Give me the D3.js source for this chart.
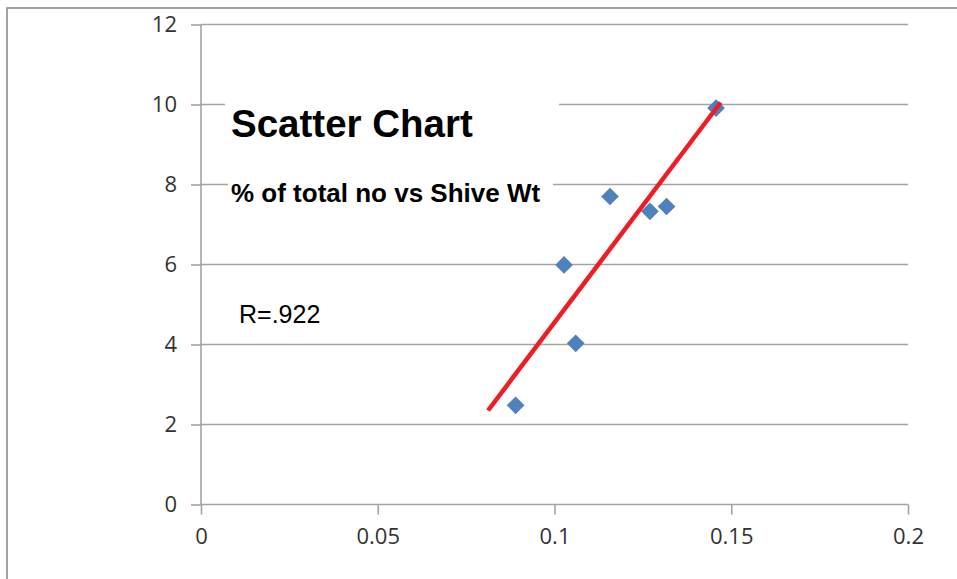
<!DOCTYPE html>
<html>
<head>
<meta charset="utf-8">
<script src="https://cdn.jsdelivr.net/npm/d3@7"></script>
<style>
  html, body { margin: 0; padding: 0; background: #fff; }
  svg { display: block; }
</style>
</head>
<body>
<svg id="chart" width="957" height="579"></svg>
<script>
// Shive weight vs % of total number
const shiveWt = [0.089, 0.106, 0.1027, 0.1157, 0.127, 0.1317, 0.1457];
const pctTotal = [2.48, 4.03, 5.99, 7.70, 7.33, 7.45, 9.91];

// Hand-placed trend line end points
const trendX = [0.0812, 0.147];
const trendY = [2.35, 10.05];

const xTicks = [0, 0.05, 0.1, 0.15, 0.2];
const yTicks = [0, 2, 4, 6, 8, 10, 12];

const svg = d3.select("#chart");
const W = 957, H = 579;

// outer chart frame
svg.append("rect")
  .attr("x", 7).attr("y", 8)
  .attr("width", W + 10).attr("height", H + 10)
  .attr("fill", "#fff")
  .attr("stroke", "#8c8c8c").attr("stroke-width", 1.6);

const x = d3.scaleLinear().domain([0, 0.2]).range([201, 908]);
const y = d3.scaleLinear().domain([0, 12]).range([504.5, 24.5]);

const gridColor = "#a3a3a3";
const tickFont = "'Open Sans', 'Noto Sans', sans-serif";

// horizontal gridlines
svg.append("g")
  .selectAll("line")
  .data(yTicks.filter(d => d > 0))
  .join("line")
  .attr("x1", x(0)).attr("x2", x(0.2))
  .attr("y1", d => y(d)).attr("y2", d => y(d))
  .attr("stroke", gridColor).attr("stroke-width", 1.6);

// y axis
const yAxis = d3.axisLeft(y).tickValues(yTicks).tickSize(10).tickPadding(14)
  .tickFormat(d3.format("d"));
const gy = svg.append("g").attr("transform", `translate(${x(0)},0)`).call(yAxis);

// x axis
const xAxis = d3.axisBottom(x).tickValues(xTicks).tickSize(10).tickPadding(14)
  .tickFormat(d => d === 0 ? "0" : String(d));
const gx = svg.append("g").attr("transform", `translate(0,${y(0)})`).call(xAxis);

[gx, gy].forEach(g => {
  g.select(".domain").attr("stroke", gridColor).attr("stroke-width", 1.6);
  g.selectAll(".tick line").attr("stroke", gridColor).attr("stroke-width", 1.6);
  g.selectAll(".tick text")
    .attr("fill", "#333")
    .style("font-family", tickFont)
    .style("font-size", "22px");
});
gx.select(".domain").attr("d", `M${x(0)},${y(0)}H${x(0.2)}`.replace(/,[\d.]+H/, ",0H"));
gy.select(".domain").attr("d", `M0,${y(12)}V${y(0)}`);

// text boxes with white fill sitting over the gridlines
const titleFont = "'Liberation Sans', Arial, sans-serif";
svg.append("rect").attr("x", 225).attr("y", 96).attr("width", 334).attr("height", 54).attr("fill", "#fff");
svg.append("rect").attr("x", 228).attr("y", 172).attr("width", 325).attr("height", 40).attr("fill", "#fff");

svg.append("text")
  .attr("x", 231).attr("y", 137)
  .style("font-family", titleFont).style("font-weight", "bold").style("font-size", "38.5px")
  .attr("fill", "#000")
  .text("Scatter Chart");

svg.append("text")
  .attr("x", 231).attr("y", 202)
  .style("font-family", titleFont).style("font-weight", "bold").style("font-size", "26px")
  .attr("fill", "#000")
  .text("% of total no vs Shive Wt");

svg.append("text")
  .attr("x", 239).attr("y", 323)
  .style("font-family", titleFont).style("font-size", "25px")
  .attr("fill", "#000")
  .text("R=.922");

// data points
const pts = shiveWt.map((v, i) => [v, pctTotal[i]]);
svg.append("g")
  .selectAll("path")
  .data(pts)
  .join("path")
  .attr("transform", d => `translate(${x(d[0])},${y(d[1])})`)
  .attr("d", d3.symbol().type(d3.symbolDiamond2).size(200))
  .attr("fill", "#4f81bd");

// trend line
const trend = trendX.map((v, i) => [v, trendY[i]]);
svg.append("path")
  .datum(trend)
  .attr("d", d3.line().x(d => x(d[0])).y(d => y(d[1])))
  .attr("stroke", "#ee1c24").attr("stroke-width", 4.5)
  .attr("fill", "none");
</script>
</body>
</html>
